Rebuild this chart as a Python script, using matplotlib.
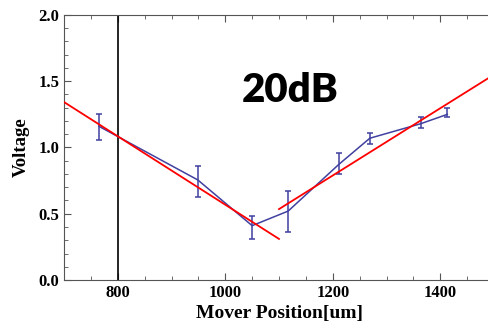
import numpy as np
import matplotlib
matplotlib.use("Agg")
import matplotlib.pyplot as plt
from matplotlib.ticker import MultipleLocator

# measured points (mover position in um, voltage, error bar bounds)
pos = [765, 949, 1050, 1117, 1212, 1269, 1364, 1413]
volt = [1.16, 0.755, 0.41, 0.52, 0.875, 1.07, 1.18, 1.25]
err_lo = [1.06, 0.63, 0.31, 0.36, 0.80, 1.03, 1.15, 1.23]
err_hi = [1.25, 0.86, 0.48, 0.67, 0.96, 1.11, 1.23, 1.30]

# linear fits on both sides of the minimum
fit1_x = [700, 1100]
fit1_y = [1.343, 0.31]
fit2_x = [1100, 1500]
fit2_y = [0.535, 1.55]

marker_x = 800

fig = plt.figure(figsize=(4.89, 3.32), dpi=100)
ax = fig.add_axes([64 / 489, 52 / 332, 430 / 489, 265 / 332])

volt = np.array(volt)
yerr = [volt - np.array(err_lo), np.array(err_hi) - volt]
ax.errorbar(pos, volt, yerr=yerr, color='#4040a0', lw=1.1, capsize=2.5,
            elinewidth=1.1, capthick=1.1, zorder=3)
ax.plot(fit1_x, fit1_y, color='#ff0000', lw=1.3, zorder=4)
ax.plot(fit2_x, fit2_y, color='#ff0000', lw=1.3, zorder=4)
ax.axvline(marker_x, color='black', lw=1.2, zorder=2)

ax.set_xlim(700, 1500)
ax.set_ylim(0, 2.0)
ax.xaxis.set_major_locator(MultipleLocator(200))
ax.xaxis.set_minor_locator(MultipleLocator(50))
ax.yaxis.set_major_locator(MultipleLocator(0.5))
ax.yaxis.set_minor_locator(MultipleLocator(0.1))
ax.set_yticks([0, 0.5, 1.0, 1.5, 2.0])
ax.set_yticklabels(['0.0', '0.5', '1.0', '1.5', '2.0'])
ax.tick_params(which='both', direction='in', top=True, right=False, color='#555555')
ax.tick_params(which='major', length=5, width=0.8)
ax.tick_params(which='minor', length=3, width=0.6)
for lab in ax.get_xticklabels() + ax.get_yticklabels():
    lab.set_fontfamily('Liberation Serif')
    lab.set_fontweight('bold')
    lab.set_fontsize(12)
for s in ax.spines.values():
    s.set_color('#555555')
    s.set_linewidth(0.8)

ax.set_xlabel('Mover Position[um]', fontfamily='Liberation Serif',
              fontweight='bold', fontsize=14, labelpad=3)
ax.set_ylabel('Voltage', fontfamily='Liberation Serif',
              fontweight='bold', fontsize=13.5, labelpad=6)

ax.text(1120, 1.43, '20dB', fontfamily='Lato', fontweight='heavy',
        fontsize=29, ha='center', va='center')

fig.savefig('out.png', dpi=100)
